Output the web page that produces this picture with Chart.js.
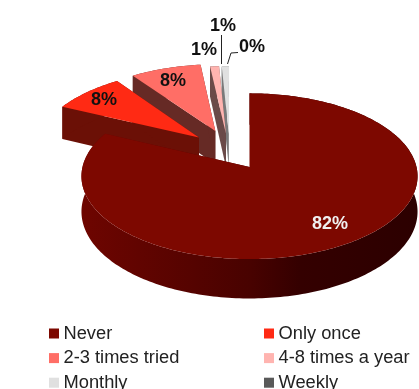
<!DOCTYPE html>
<html>
<head>
<meta charset="utf-8">
<style>
  html, body { margin: 0; padding: 0; background: #fff; overflow: hidden; }
  #wrap { position: relative; width: 419px; height: 389px; }
  canvas { filter: blur(0.45px); }
</style>
<script src="https://cdn.jsdelivr.net/npm/chart.js@4/dist/chart.umd.min.js"></script>
</head>
<body>
<div id="wrap"><canvas id="pie"></canvas></div>
<script>
const categories = ['Never', 'Only once', '2-3 times tried', '4-8 times a year', 'Monthly', 'Weekly'];
const shares = [82.0, 8.1, 7.9, 1.0, 0.8, 0.2];

const topColors  = ['#7d0800', '#ff2a14', '#ff6e66', '#ffb4b0', '#e0e0e0', '#595959'];
const sideColors = ['#4a0200', '#6b1006', '#662a25', '#6a4a48', '#7a7a7a', '#3a3a3a'];

/* how far each slice is pulled out, and in which direction (deg clockwise from 12 o'clock) */
const sliceOffset = [0, 82, 85, 76, 74, 74];
const sliceDir    = [0, 320, 335, 341, 343, 340];

/* look of the tilted 3D pie */
const CX = 249.5, CY = 167, TILT = 0.49, CAMERA = 1500, DEPTH = 35;

/* where the percentage labels sit: x, y, colour */
const labelSpots = [
  [330, 224, '#f0f0f0'], [104, 100, '#111'], [173, 81, '#111'],
  [204, 50, '#111'], [223, 26, '#111'], [252, 47, '#111'],
];

function project(x, y, z) {
  const s = CAMERA / (CAMERA - y);
  return [CX + x * s, CY + TILT * y * s + z * s];
}

function outline(arc, i) {
  const { startAngle, endAngle, outerRadius } = arc.getProps(['startAngle', 'endAngle', 'outerRadius'], true);
  const dir = sliceDir[i] * Math.PI / 180;
  const ox = Math.sin(dir) * arc.options.offset;
  const oy = -Math.cos(dir) * arc.options.offset;
  const pts = [[ox, oy]];
  const steps = Math.max(3, Math.ceil((endAngle - startAngle) / 0.02));
  for (let k = 0; k <= steps; k++) {
    const a = startAngle + (endAngle - startAngle) * k / steps;
    pts.push([ox + Math.cos(a) * outerRadius, oy + Math.sin(a) * outerRadius]);
  }
  return pts;
}

function fillPath(ctx, poly) {
  ctx.beginPath();
  poly.forEach((p, n) => n ? ctx.lineTo(p[0], p[1]) : ctx.moveTo(p[0], p[1]));
  ctx.closePath();
  ctx.fill();
}

const pie3d = {
  id: 'pie3d',
  beforeDatasetsDraw(chart) {
    const ctx = chart.ctx;
    const arcs = chart.getDatasetMeta(0).data;

    for (let i = arcs.length - 1; i >= 0; i--) {
      const pts = outline(arcs[i], i);
      const rim = pts.slice(1);
      const edge = [pts[1], pts[0], pts[pts.length - 1]];

      let side = sideColors[i];
      if (i === 0) {
        side = ctx.createLinearGradient(82, 0, 419, 0);
        side.addColorStop(0, '#6e0500');
        side.addColorStop(0.5, '#480200');
        side.addColorStop(0.65, '#340000');
        side.addColorStop(1, '#2c0000');
      }
      ctx.fillStyle = side;

      /* the two cut faces */
      for (let k = 0; k < 2; k++) {
        const a = edge[k], b = edge[k + 1];
        fillPath(ctx, [project(a[0], a[1], 0), project(b[0], b[1], 0), project(b[0], b[1], DEPTH), project(a[0], a[1], DEPTH)]);
      }
      /* the rim in one piece, so no seams show */
      const upper = rim.map(p => project(p[0], p[1], 0));
      const lower = rim.map(p => project(p[0], p[1], DEPTH)).reverse();
      fillPath(ctx, upper.concat(lower));

      ctx.fillStyle = topColors[i];
      fillPath(ctx, pts.map(p => project(p[0], p[1], 0)));
    }

    /* leader lines */
    ctx.strokeStyle = '#222';
    ctx.lineWidth = 1;
    ctx.beginPath();
    ctx.moveTo(221.5, 35); ctx.lineTo(221.5, 64);
    ctx.moveTo(238, 52.5); ctx.lineTo(231, 53); ctx.lineTo(227.5, 64);
    ctx.stroke();

    /* percentage labels */
    const total = shares.reduce((a, b) => a + b, 0);
    ctx.font = 'bold 18px "Liberation Sans"';
    ctx.textAlign = 'center';
    ctx.textBaseline = 'middle';
    shares.forEach((v, i) => {
      ctx.fillStyle = labelSpots[i][2];
      ctx.fillText(Math.round(v / total * 100) + '%', labelSpots[i][0], labelSpots[i][1]);
    });

    /* two column legend, the last row runs off the bottom like the original */
    ctx.font = '18.3px "Liberation Sans"';
    ctx.textAlign = 'left';
    categories.forEach((name, i) => {
      const x = i % 2 ? 264 : 49;
      const y = 333.5 + Math.floor(i / 2) * 24.6;
      ctx.fillStyle = topColors[i];
      ctx.fillRect(x, y - 5, 10, 10);
      ctx.fillStyle = '#222';
      ctx.fillText(name, x + 14.5, y);
    });
    return false;
  },
};

new Chart(document.getElementById('pie'), {
  type: 'pie',
  data: {
    labels: categories,
    datasets: [{ data: shares, backgroundColor: topColors, offset: sliceOffset, borderWidth: 0 }],
  },
  options: {
    responsive: true,
    maintainAspectRatio: false,
    animation: false,
    radius: 167,
    plugins: { legend: { display: false }, tooltip: { enabled: false } },
  },
  plugins: [pie3d],
});
</script>
</body>
</html>
